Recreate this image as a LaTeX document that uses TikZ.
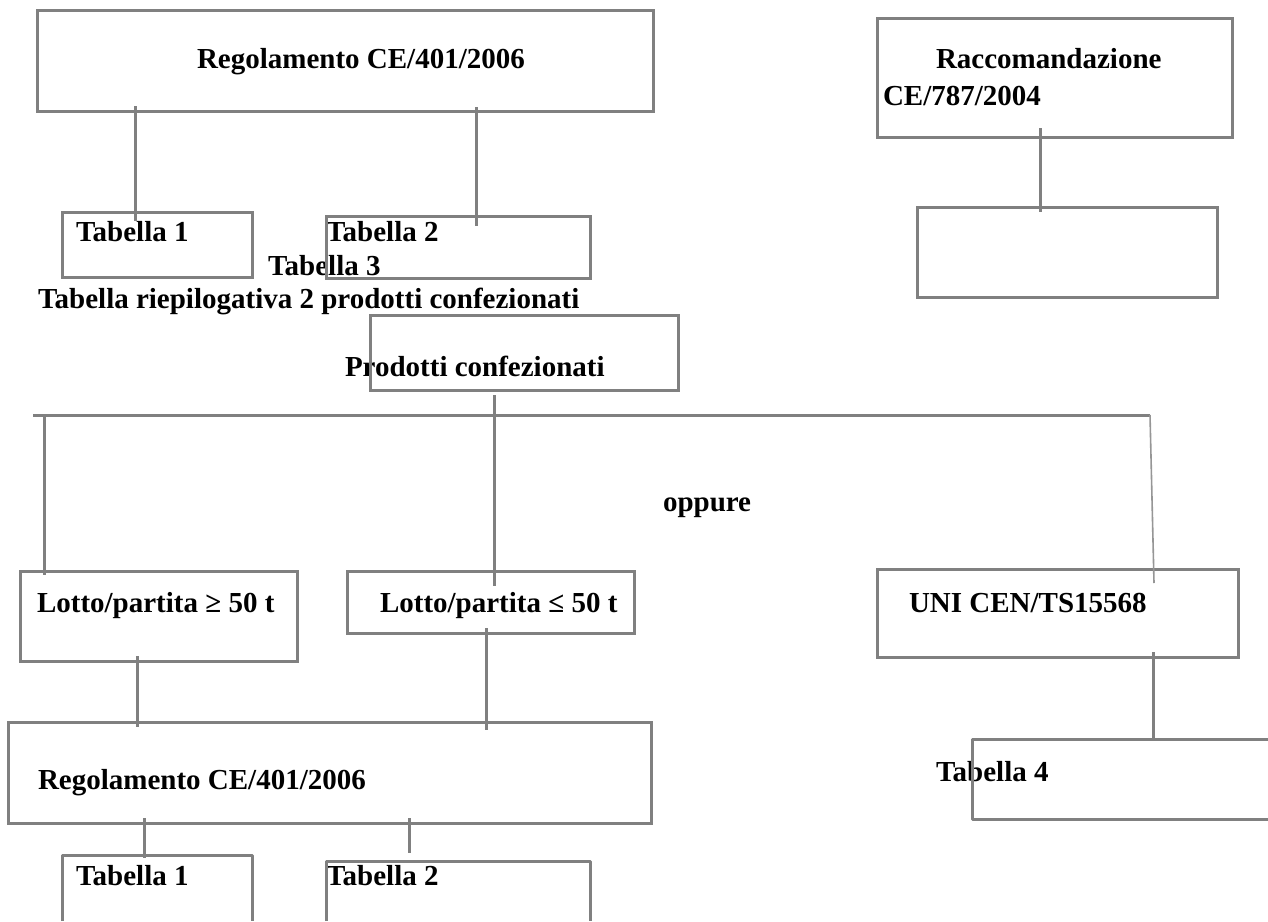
\documentclass[tikz,border=0pt]{standalone}
\usepackage{fontspec}
\setmainfont{Liberation Serif}
\usetikzlibrary{calc}
\definecolor{linegray}{RGB}{128,128,128}
\definecolor{thingray}{RGB}{150,150,150}
\tikzset{
  boxframe/.style={draw=linegray, line width=3pt, inner sep=0pt, outer sep=0pt, anchor=north west},
  openframe/.style={draw=none, inner sep=0pt, outer sep=0pt, anchor=north west},
  conn/.style={draw=linegray, line width=3pt},
  thinconn/.style={draw=thingray, line width=1.6pt},
  lbl/.style={anchor=base west, inner sep=0pt, outer sep=0pt, font=\bfseries\fontsize{29}{31}\selectfont}
}
\begin{document}
\begin{tikzpicture}[x=1pt,y=-1pt]
\useasboundingbox[fill=white] (0,0) rectangle (1268,921);

% texts
\node[lbl] (txRegA) at (197,68) {Regolamento CE/401/2006};
\node[lbl] (txRacc1) at (936,68) {Raccomandazione};
\node[lbl] (txRacc2) at (883,105) {CE/787/2004};
\node[lbl] (txT1) at (76,241) {Tabella 1};
\node[lbl] (txT2) at (326,241) {Tabella 2};
\node[lbl] (txT3) at (268,275) {Tabella 3};
\node[lbl] (txRiep) at (38,308) {Tabella riepilogativa 2 prodotti confezionati};
\node[lbl] (txProd) at (345,376) {Prodotti confezionati};
\node[lbl] (txOpp) at (663,511) {oppure};
\node[lbl] (txL1) at (37,612) {Lotto/partita ≥ 50 t};
\node[lbl] (txL2) at (380,612) {Lotto/partita ≤ 50 t};
\node[lbl] (txUni) at (909,612) {UNI CEN/TS15568};
\node[lbl] (txRegB) at (38,789) {Regolamento CE/401/2006};
\node[lbl] (txT4) at (936,781) {Tabella 4};
\node[lbl] (txT1b) at (76,885) {Tabella 1};
\node[lbl] (txT2b) at (326,885) {Tabella 2};

% closed boxes
\node[boxframe, minimum width=616pt, minimum height=101pt] (regA) at (37,10) {};
\node[boxframe, minimum width=190pt, minimum height=65pt] (t1) at (62,212) {};
\node[boxframe, minimum width=264pt, minimum height=62pt] (t2) at (326,216) {};
\node[boxframe, minimum width=355pt, minimum height=119pt] (racc) at (877,18) {};
\node[boxframe, minimum width=300pt, minimum height=90pt] (empty) at (917,207) {};
\node[boxframe, minimum width=308pt, minimum height=75pt] (prod) at (370,315) {};
\node[boxframe, minimum width=277pt, minimum height=90pt] (lotto1) at (20,571) {};
\node[boxframe, minimum width=287pt, minimum height=62pt] (lotto2) at (347,571) {};
\node[boxframe, minimum width=361pt, minimum height=88pt] (uni) at (877,569) {};
\node[boxframe, minimum width=643pt, minimum height=101pt] (regB) at (8,722) {};

% open boxes
\node[openframe, minimum width=190pt, minimum height=66pt] (t1b) at (62,855) {};
\node[openframe, minimum width=264pt, minimum height=60pt] (t2b) at (326,861) {};
\node[openframe, minimum width=300pt, minimum height=80pt] (t4) at (972,739) {};
\draw[conn, line join=round] (t1b.south west) -- (t1b.north west) -- (t1b.north east) -- (t1b.south east);
\draw[conn, line join=round] (t2b.south west) -- (t2b.north west) -- (t2b.north east) -- (t2b.south east);
\draw[conn, line join=round] (t4.north east) -- (t4.north west) -- (t4.south west) -- (t4.south east);

% connectors
\coordinate (busL) at (33,415);
\coordinate (busR) at (1150,415);
\draw[conn] ($(regA.south west)+(98,-5)$) -- ($(t1.north west)+(73,9)$);
\draw[conn] ($(regA.south west)+(439,-4)$) -- ($(t2.north west)+(150,10)$);
\draw[conn] ($(racc.south west)+(163,-9)$) -- ($(empty.north west)+(123,5)$);
\draw[conn] ($(prod.south west)+(124,5)$) -- ($(lotto2.north west)+(147,15)$);
\draw[conn] (busL) -- (busR);
\draw[conn] ($(busL)+(11,0)$) -- ($(lotto1.north west)+(24,4)$);
\draw[thinconn] (busR) -- ($(uni.north west)+(277,14)$);
\draw[conn] ($(lotto1.south west)+(117,-5)$) -- ($(regB.north west)+(129,5)$);
\draw[conn] ($(lotto2.south west)+(139,-5)$) -- ($(regB.north west)+(478,8)$);
\draw[conn] ($(uni.south west)+(276,-5)$) -- ($(t4.north west)+(181,0)$);
\draw[conn] ($(regB.south west)+(136,-5)$) -- ($(t1b.north west)+(82,3)$);
\draw[conn] ($(regB.south west)+(401,-5)$) -- ($(t2b.north west)+(83,-8)$);
\end{tikzpicture}
\end{document}
